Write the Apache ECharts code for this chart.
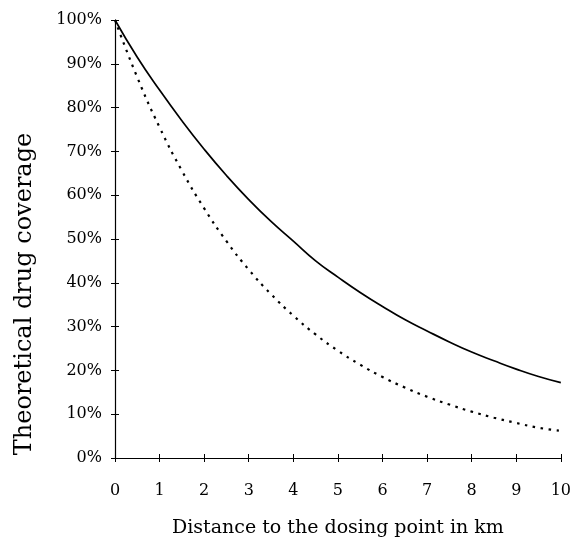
<!DOCTYPE html>
<html>
<head>
<meta charset="utf-8">
<script src="https://cdn.jsdelivr.net/npm/echarts@6/dist/echarts.min.js"></script>
<style>html,body{margin:0;padding:0;background:#fff}#c{width:574px;height:543px}</style>
</head>
<body>
<div id="c"></div>
<script>
const distances = [0,0.5,1,1.5,2,2.5,3,3.5,4,4.5,5,5.5,6,6.5,7,7.5,8,8.5,9,9.5,10];
const solidCoverage = [100,91.5,84,77,70.5,64.5,59,54,49.5,45,41.3,37.8,34.6,31.6,29,26.5,24.2,22.2,20.3,18.6,17.2];
const dottedCoverage = [100,86.9,75.5,65.6,57,49.5,43,37.4,32.5,28.2,24.5,21.3,18.5,16.1,14,12.2,10.6,9.2,8,6.9,6.2];
const xTicks = [0,1,2,3,4,5,6,7,8,9,10];
const yTicks = [0,10,20,30,40,50,60,70,80,90,100];
const xTitle = 'Distance to the dosing point in km';
const yTitle = 'Theoretical drug coverage';

const font = 'DejaVu Serif';
const chart = echarts.init(document.getElementById('c'));
const pair = arr => distances.map((d,i)=>[d,arr[i]]);
chart.setOption({
  animation:false,
  backgroundColor:'#fff',
  grid:{left:115,right:11,top:20,bottom:84},
  graphic:[{
    type:'text',x:25,y:294,rotation:Math.PI/2,
    style:{text:yTitle,font:'24px "DejaVu Serif"',fill:'#000',align:'center',verticalAlign:'middle'}
  }],
  xAxis:[{
    type:'value',min:0,max:10,interval:1,
    name:xTitle,nameLocation:'middle',nameGap:61,
    nameTextStyle:{fontFamily:font,fontSize:19,color:'#000'},
    axisLine:{show:true,lineStyle:{color:'#000',width:1.2}},
    axisTick:{show:true,inside:false,length:4,lineStyle:{color:'#000'}},
    axisLabel:{fontFamily:font,fontSize:16,color:'#000',margin:25,formatter:v=>xTicks.includes(v)?String(v):''},
    splitLine:{show:false}
  },{
    type:'value',min:0,max:10,interval:1,position:'bottom',gridIndex:0,
    axisLine:{show:false},axisTick:{show:true,inside:true,length:4,lineStyle:{color:'#000'}},
    axisLabel:{show:false},splitLine:{show:false}
  }],
  yAxis:[{
    type:'value',min:0,max:100,interval:10,
    axisLine:{show:true,lineStyle:{color:'#000',width:1.2}},
    axisTick:{show:true,inside:false,length:4,lineStyle:{color:'#000'}},
    axisLabel:{fontFamily:font,fontSize:16,color:'#000',margin:13,formatter:v=>yTicks.includes(v)?v+'%':''},
    splitLine:{show:false}
  },{
    type:'value',min:0,max:100,interval:10,position:'left',
    axisLine:{show:false},axisTick:{show:true,inside:true,length:4,lineStyle:{color:'#000'}},
    axisLabel:{show:false},splitLine:{show:false}
  }],
  series:[{
    type:'line',data:pair(solidCoverage),smooth:true,symbol:'none',
    lineStyle:{color:'#000',width:1.7,type:'solid'}
  },{
    type:'line',data:pair(dottedCoverage),smooth:true,symbol:'none',
    lineStyle:{color:'#000',width:2.2,type:[2.5,5.5]}
  }]
});
</script>
</body>
</html>
